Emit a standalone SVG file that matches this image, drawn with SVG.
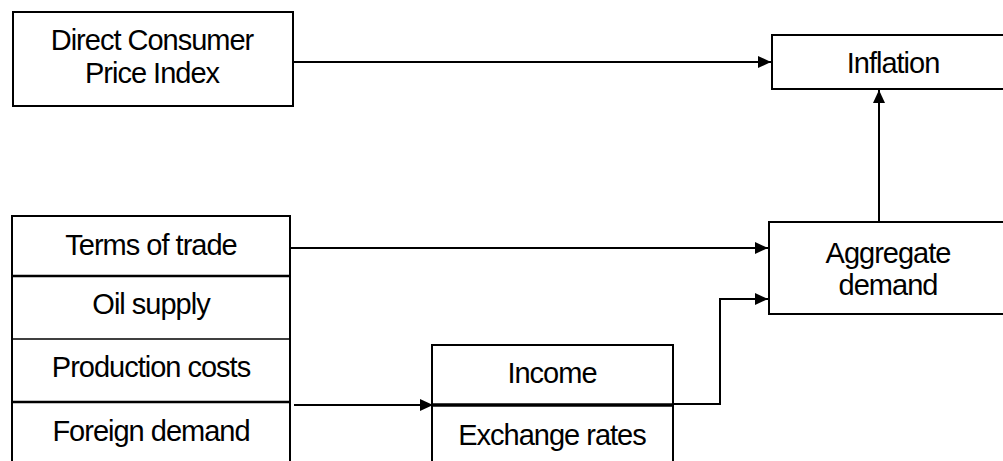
<svg xmlns="http://www.w3.org/2000/svg" width="1003" height="461" viewBox="0 0 1003 461">
<style>
.box{fill:#fff;stroke:#000;stroke-width:2}
.div{stroke:#000;stroke-width:2.5}
.lbl{font-family:"Liberation Sans",Arial,sans-serif;font-size:29px;fill:#000;text-anchor:middle;letter-spacing:-1px}
.con{fill:none;stroke:#000;stroke-width:2}
</style>
<defs>
<marker id="ah" viewBox="0 0 13 12" refX="13" refY="6" markerWidth="13" markerHeight="12" markerUnits="userSpaceOnUse" orient="auto">
<path d="M0,0 L13,6 L0,12 Z" fill="#000"/>
</marker>
</defs>
<rect width="1003" height="461" fill="#fff"/>
<g id="connectors">
<path class="con" d="M293,62 L771,62" marker-end="url(#ah)"/>
<path class="con" d="M879,222 L879,90" marker-end="url(#ah)"/>
<path class="con" d="M290,248 L768,248" marker-end="url(#ah)"/>
<path class="con" d="M294,405 L433,405" marker-end="url(#ah)"/>
<path class="con" d="M673,404 L720,404 L720,299 L768,299" marker-end="url(#ah)"/>
</g>
<g id="dcpi">
<rect class="box" x="13" y="12" width="280" height="94"/>
<text class="lbl" x="152" y="50">Direct Consumer</text>
<text class="lbl" x="152" y="83">Price Index</text>
</g>
<g id="inflation">
<rect class="box" x="772" y="35" width="240" height="54"/>
<text class="lbl" x="893" y="73">Inflation</text>
</g>
<g id="aggregate-demand">
<rect class="box" x="769" y="222" width="243" height="92"/>
<text class="lbl" x="888" y="263">Aggregate</text>
<text class="lbl" x="888" y="295">demand</text>
</g>
<g id="left-stack">
<rect class="box" x="12" y="216" width="278" height="255"/>
<line class="div" x1="12" y1="276" x2="290" y2="276"/>
<line x1="12" y1="339" x2="290" y2="339" stroke="#000" stroke-width="1.5"/>
<line class="div" x1="12" y1="402" x2="290" y2="402"/>
</g>
<g id="terms-of-trade"><text class="lbl" x="151" y="255">Terms of trade</text></g>
<g id="oil-supply"><text class="lbl" x="151" y="314">Oil supply</text></g>
<g id="production-costs"><text class="lbl" x="151" y="377">Production costs</text></g>
<g id="foreign-demand"><text class="lbl" x="151" y="441">Foreign demand</text></g>
<g id="income-stack">
<rect class="box" x="432" y="345" width="241" height="126"/>
<line x1="432" y1="405" x2="673" y2="405" stroke="#000" stroke-width="3.5"/>
</g>
<g id="income"><text class="lbl" x="552" y="383">Income</text></g>
<g id="exchange-rates"><text class="lbl" x="552" y="445">Exchange  rates</text></g>
</svg>
